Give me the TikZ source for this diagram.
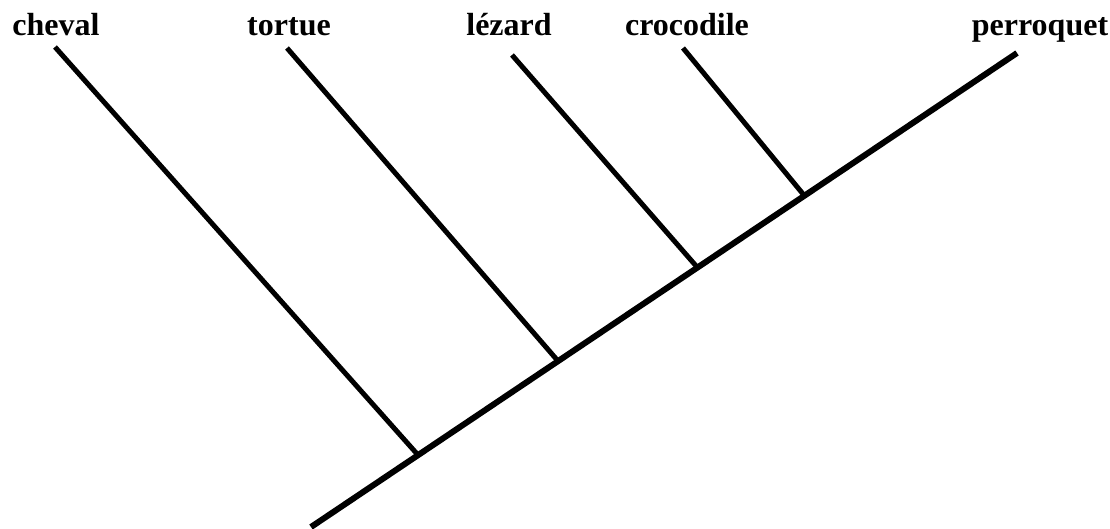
\documentclass[tikz,border=0pt]{standalone}
\usepackage{fontspec}
\setmainfont{Liberation Serif}

\begin{document}
\begin{tikzpicture}[x=1pt,y=-1pt]
    \useasboundingbox (0,0) rectangle (1110,528);
    \tikzset{TaxonStyle/.style = {font=\fontsize{32}{36}\selectfont\bfseries,
                                  anchor=base, inner sep=0pt}}

    \node[TaxonStyle] (Ch) at (56,35)   {cheval};
    \node[TaxonStyle] (To) at (289,35)  {tortue};
    \node[TaxonStyle] (Le) at (509,35)  {lézard};
    \node[TaxonStyle] (Cr) at (687,35)  {crocodile};
    \node[TaxonStyle] (Pe) at (1040,35) {perroquet};

    \coordinate (ChT) at (55,47);
    \coordinate (ToT) at (287,48);
    \coordinate (LeT) at (512,55);
    \coordinate (CrT) at (683,48);
    \coordinate (PeT) at (1017,53);

    \coordinate (R)   at (311,527);
    \coordinate (ChJ) at (418,455);
    \coordinate (ToJ) at (558,361);
    \coordinate (LeJ) at (697,267);
    \coordinate (CrJ) at (803,194);

    \tikzset{EdgeStyle/.style = {line width=6pt, color = black}}
    \draw[EdgeStyle] (R) -- (PeT);

    \tikzset{EdgeStyle/.style = {line width=5pt, color = black}}
    \draw[EdgeStyle] (ChT) -- (ChJ);
    \draw[EdgeStyle] (ToT) -- (ToJ);
    \draw[EdgeStyle] (LeT) -- (LeJ);
    \draw[EdgeStyle] (CrT) -- (CrJ);
\end{tikzpicture}
\end{document}
